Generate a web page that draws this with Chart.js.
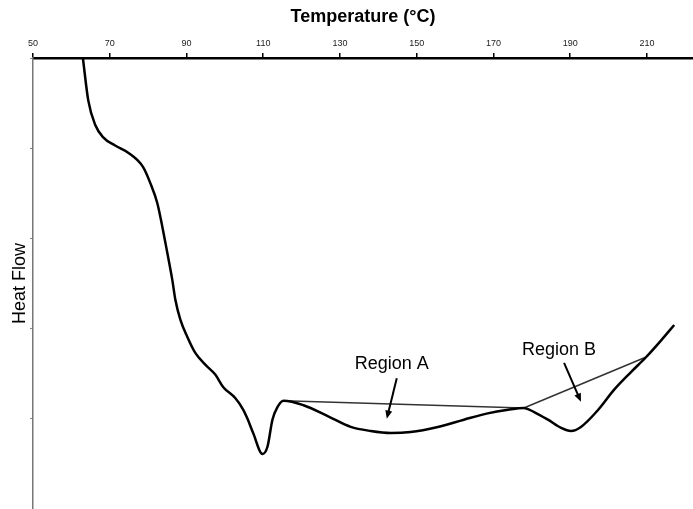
<!DOCTYPE html>
<html>
<head>
<meta charset="utf-8">
<script src="https://cdn.jsdelivr.net/npm/chart.js@4.4.1/dist/chart.umd.min.js"></script>
<style>
  html, body { margin: 0; padding: 0; background: #fff; }
  #wrap { width: 693px; height: 509px; }
</style>
</head>
<body>
<div id="wrap"><canvas id="dsc" width="693" height="509"></canvas></div>
<script>
// DSC trace
const temperature = [63.0, 64.4, 66.2, 68.3, 71.4, 74.8, 78.7, 80.6, 82.4, 83.7, 85.0, 86.3, 87.1, 88.4, 90.2, 92.3, 94.9, 97.5, 99.6, 102.7, 104.8, 105.9, 107.4, 109.8, 111.1, 112.4, 113.7, 115.3, 120.5, 126.8, 132.8, 138.0, 143.2, 148.4, 155.5, 162.3, 168.5, 173.8, 177.9, 180.6, 184.2, 187.6, 190.2, 192.8, 197.3, 201.4, 205.9, 209.8, 213.7, 217.1];
const heatFlow = [5.00, 4.53, 4.26, 4.12, 4.03, 3.95, 3.79, 3.61, 3.39, 3.13, 2.84, 2.54, 2.32, 2.10, 1.91, 1.73, 1.60, 1.49, 1.35, 1.23, 1.10, 1.00, 0.84, 0.61, 0.69, 0.99, 1.13, 1.20, 1.15, 1.03, 0.91, 0.865, 0.843, 0.854, 0.91, 0.99, 1.06, 1.10, 1.12, 1.075, 0.99, 0.90, 0.865, 0.91, 1.10, 1.32, 1.52, 1.685, 1.87, 2.04];

const baselineATemp = [115.3, 177.9];
const baselineAFlow = [1.20, 1.12];
const baselineBTemp = [177.9, 209.8];
const baselineBFlow = [1.12, 1.685];

const xTicks = [50, 70, 90, 110, 130, 150, 170, 190, 210];

// annotation labels and arrows (data coordinates)
const regionLabels = ['Region A', 'Region B'];
const labelTemp = [143.5, 187.1];
const labelFlow = [1.61, 1.76];
const arrowFromTemp = [144.8, 188.4];
const arrowFromFlow = [1.45, 1.62];
const arrowToTemp = [142.2, 192.8];
const arrowToFlow = [1.00, 1.19];

const FONT = 'Arial, "Liberation Sans", sans-serif';

const toPoints = (xs, ys) => xs.map((x, i) => ({ x: x, y: ys[i] }));

const regionNotes = {
  id: 'regionNotes',
  afterDatasetsDraw(chart) {
    const ctx = chart.ctx;
    const xs = chart.scales.x;
    const ys = chart.scales.y;
    ctx.save();
    ctx.fillStyle = '#000';
    ctx.strokeStyle = '#000';
    ctx.font = '18px ' + FONT;
    ctx.textAlign = 'center';
    ctx.textBaseline = 'middle';
    regionLabels.forEach((txt, i) => {
      ctx.fillText(txt, xs.getPixelForValue(labelTemp[i]), ys.getPixelForValue(labelFlow[i]));
      let x1 = xs.getPixelForValue(arrowFromTemp[i]);
      let y1 = ys.getPixelForValue(arrowFromFlow[i]);
      let x2 = xs.getPixelForValue(arrowToTemp[i]);
      let y2 = ys.getPixelForValue(arrowToFlow[i]);
      let ang = Math.atan2(y2 - y1, x2 - x1);
      let head = 9;
      ctx.lineWidth = 2;
      ctx.beginPath();
      ctx.moveTo(x1, y1);
      ctx.lineTo(x2 - Math.cos(ang) * head * 0.8, y2 - Math.sin(ang) * head * 0.8);
      ctx.stroke();
      ctx.beginPath();
      ctx.moveTo(x2, y2);
      ctx.lineTo(x2 - head * Math.cos(ang - 0.4), y2 - head * Math.sin(ang - 0.4));
      ctx.lineTo(x2 - head * Math.cos(ang + 0.4), y2 - head * Math.sin(ang + 0.4));
      ctx.closePath();
      ctx.fill();
    });
    ctx.restore();
  }
};

new Chart(document.getElementById('dsc'), {
  type: 'line',
  data: {
    datasets: [
      {
        data: toPoints(temperature, heatFlow),
        borderColor: '#000',
        borderWidth: 2.5,
        cubicInterpolationMode: 'monotone',
        pointRadius: 0,
        order: 1
      },
      {
        data: toPoints(baselineATemp, baselineAFlow),
        borderColor: '#333',
        borderWidth: 1.5,
        pointRadius: 0,
        order: 2
      },
      {
        data: toPoints(baselineBTemp, baselineBFlow),
        borderColor: '#333',
        borderWidth: 1.5,
        pointRadius: 0,
        order: 2
      }
    ]
  },
  options: {
    responsive: false,
    animation: false,
    events: [],
    layout: { padding: 0 },
    plugins: { legend: { display: false }, tooltip: { enabled: false } },
    scales: {
      x: {
        type: 'linear',
        position: 'top',
        min: 50,
        max: 222,
        afterFit: s => { s.height = 58; },
        afterBuildTicks: s => { s.ticks = xTicks.map(v => ({ value: v })); },
        ticks: { color: '#222', font: { family: FONT, size: 9 }, padding: 4, maxRotation: 0 },
        grid: { drawOnChartArea: false, drawTicks: true, tickLength: 5, color: '#000', lineWidth: 1.5 },
        border: { color: '#000', width: 2.5 },
        title: {
          display: true,
          text: 'Temperature (°C)',
          color: '#000',
          font: { family: FONT, size: 18, weight: 'bold' },
          padding: { top: 6, bottom: 0 }
        }
      },
      y: {
        min: 0,
        max: 5,
        afterFit: s => { s.width = 33; },
        ticks: { display: false, stepSize: 1 },
        grid: { drawOnChartArea: false, drawTicks: true, tickLength: 3, color: '#888', lineWidth: 1 },
        border: { color: '#777', width: 1.5 },
        title: {
          display: true,
          text: 'Heat Flow',
          color: '#000',
          font: { family: FONT, size: 18 },
          padding: { top: 9, bottom: 0 }
        }
      }
    }
  },
  plugins: [regionNotes]
});
</script>
</body>
</html>
